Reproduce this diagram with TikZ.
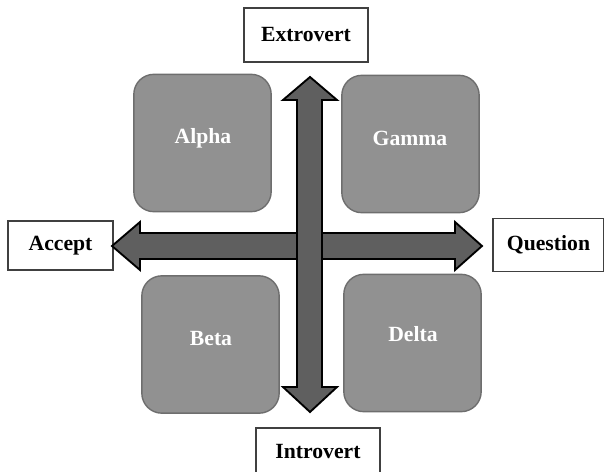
\documentclass[tikz,border=0pt]{standalone}
\usepackage{fontspec}
\setmainfont{Liberation Serif}
\definecolor{quadfill}{HTML}{919191}
\definecolor{quadline}{HTML}{6E6E6E}
\definecolor{arrowfill}{HTML}{5F5F5F}
\definecolor{poleline}{HTML}{404040}

\begin{document}
\begin{tikzpicture}[x=0.03cm,y=-0.03cm,
    quad/.style={draw=quadline,line width=1.2pt,fill=quadfill,rounded corners=0.6cm,
        minimum width=4.12cm,minimum height=4.12cm,inner sep=0pt},
    quadtext/.style={text=white,font=\fontsize{18.5}{21}\selectfont\bfseries},
    pole/.style={draw=poleline,line width=0.9pt,fill=white,inner sep=0pt,
        font=\fontsize{18.5}{21}\selectfont\bfseries},
    bigarrow/.style={draw=black,line width=1.6pt,fill=arrowfill,line join=miter}]
    \useasboundingbox (0,0) rectangle (604,472);

    %quadrants
    \node[quad] (alpha) at (202.5,143) {};
    \node[quad] (gamma) at (410.5,144) {};
    \node[quad] (beta)  at (210.5,344.5) {};
    \node[quad] (delta) at (412.5,343) {};
    \node[quadtext] at (203,138) {Alpha};
    \node[quadtext] at (410,138) {Gamma};
    \node[quadtext] at (211,339) {Beta};
    \node[quadtext] at (413,334) {Delta};

    %poles
    \node[pole,minimum width=3.72cm,minimum height=1.62cm] (extro) at (306,35) {Extrovert};
    \node[pole,minimum width=3.72cm,minimum height=1.44cm] (intro) at (318,452) {Introvert};
    \node[pole,minimum width=3.15cm,minimum height=1.47cm] (accept) at (60.5,245.5) {Accept};
    \node[pole,minimum width=3.33cm,minimum height=1.6cm] (quest) at (548.5,245) {Question};

    %axes
    \draw[bigarrow] (112,246) -- (140,222) -- (140,233) -- (455,233) -- (455,222)
        -- (482,246) -- (455,270) -- (455,259) -- (140,259) -- (140,270) -- cycle;
    \draw[bigarrow] (310,77) -- (337,100) -- (322,100) -- (322,387) -- (337,387)
        -- (310,412) -- (283,387) -- (297,387) -- (297,100) -- (283,100) -- cycle;
\end{tikzpicture}
\end{document}
